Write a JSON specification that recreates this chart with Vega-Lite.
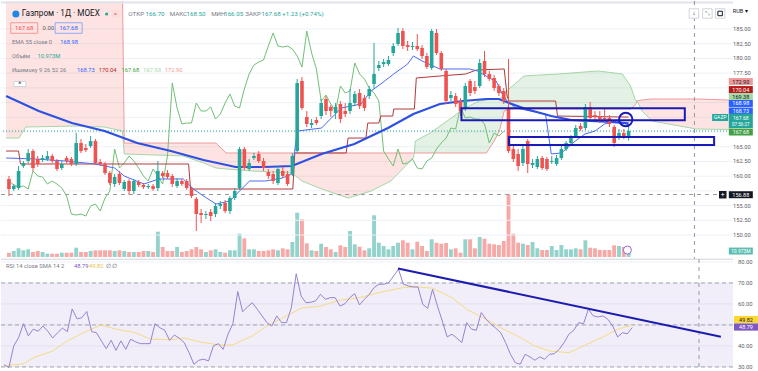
{
"$schema":"https://vega.github.io/schema/vega-lite/v6.json",
"padding":0,
"background":"white",
"bounds":"flush",
"spacing":0,
"config":{"view":{"stroke":null},"font":"Roboto","axis":{"disable":true}},
"datasets":{
"pgrid":[{"t":150},{"t":152.5},{"t":155},{"t":157.5},{"t":160},{"t":162.5},{"t":165},{"t":167.5},{"t":170},{"t":172.5},{"t":175},{"t":177.5},{"t":180},{"t":182.5},{"t":185}],
"plab":[{"t":150},{"t":152.5},{"t":155},{"t":160},{"t":162.5},{"t":165},{"t":177.5},{"t":180},{"t":182.5},{"t":185}],
"rgrid":[{"t":30},{"t":40},{"t":50},{"t":60},{"t":70},{"t":80}],
"rlab":[{"t":30},{"t":40},{"t":60},{"t":70},{"t":80}],
"k":[
{"i":0,"o":159.52,"h":160.03,"l":156.63,"c":157.82,"v":4.3,"r":31,"ch":159.18},
{"i":1,"o":157.82,"h":158.67,"l":157.48,"c":158.33,"v":6,"r":29.7,"ch":158.5},
{"i":2,"o":157.99,"h":161.73,"l":157.65,"c":160.88,"v":8.7,"r":40,"ch":158.16},
{"i":3,"o":161.73,"h":162.58,"l":161.39,"c":162.24,"v":6.7,"r":44,"ch":158.33},
{"i":4,"o":162.58,"h":164.61,"l":162.24,"c":163.94,"v":7.7,"r":50.6,"ch":157.82},
{"i":5,"o":164.27,"h":164.61,"l":160.88,"c":161.39,"v":5,"r":44.8,"ch":160.88},
{"i":6,"o":162.92,"h":163.43,"l":161.56,"c":162.07,"v":6,"r":48,"ch":160.03},
{"i":7,"o":162.75,"h":163.6,"l":162.41,"c":163.09,"v":5,"r":47,"ch":159.86},
{"i":8,"o":162.92,"h":164.27,"l":162.58,"c":163.43,"v":3.3,"r":49.5,"ch":158.67},
{"i":9,"o":163.43,"h":163.77,"l":162.24,"c":162.58,"v":3.3,"r":47,"ch":159.18},
{"i":10,"o":162.58,"h":162.92,"l":160.88,"c":161.22,"v":3.3,"r":43.8,"ch":158.67},
{"i":11,"o":161.39,"h":162.58,"l":161.05,"c":162.07,"v":4.3,"r":46.3,"ch":157.99},
{"i":12,"o":163.09,"h":163.43,"l":162.24,"c":162.58,"v":4.3,"r":48.5,"ch":156.63},
{"i":13,"o":162.92,"h":163.26,"l":161.73,"c":162.07,"v":4.3,"r":46.8,"ch":153.57},
{"i":14,"o":162.07,"h":167.33,"l":161.73,"c":165.63,"v":9.3,"r":57.6,"ch":153.4},
{"i":15,"o":165.63,"h":166.31,"l":163.94,"c":164.27,"v":5,"r":52.9,"ch":153.57},
{"i":16,"o":164.78,"h":165.46,"l":164.11,"c":164.44,"v":5,"r":53.5,"ch":153.23},
{"i":17,"o":165.12,"h":166.82,"l":164.78,"c":165.97,"v":6,"r":56.4,"ch":154.93},
{"i":18,"o":165.97,"h":166.31,"l":161.9,"c":162.24,"v":6.7,"r":46.8,"ch":155.27},
{"i":19,"o":162.41,"h":162.92,"l":161.73,"c":162.07,"v":6.7,"r":46.3,"ch":154.08},
{"i":20,"o":162.07,"h":162.41,"l":160.2,"c":160.54,"v":6.7,"r":42.4,"ch":156.29},
{"i":21,"o":160.54,"h":160.88,"l":158.5,"c":158.84,"v":6.7,"r":38.7,"ch":157.48},
{"i":22,"o":158.67,"h":160.37,"l":158.16,"c":159.86,"v":6,"r":42.7,"ch":164.61},
{"i":23,"o":160.37,"h":160.88,"l":158.5,"c":158.84,"v":6.7,"r":37.9,"ch":161.39},
{"i":24,"o":157.82,"h":159.35,"l":157.48,"c":159.01,"v":6,"r":42.4,"ch":162.24},
{"i":25,"o":159.18,"h":159.52,"l":156.8,"c":157.48,"v":5,"r":38.4,"ch":163.43},
{"i":26,"o":157.48,"h":159.52,"l":156.97,"c":159.18,"v":5,"r":43.2,"ch":162.58},
{"i":27,"o":159.01,"h":159.35,"l":158.16,"c":158.5,"v":5,"r":42,"ch":161.39},
{"i":28,"o":158.5,"h":158.84,"l":157.82,"c":158.16,"v":6,"r":41.1,"ch":160.03},
{"i":29,"o":158.16,"h":158.67,"l":157.82,"c":158.33,"v":6,"r":41.1,"ch":159.18},
{"i":30,"o":158.33,"h":158.67,"l":157.48,"c":157.82,"v":5,"r":41.1,"ch":161.22},
{"i":31,"o":157.99,"h":162.58,"l":157.48,"c":160.88,"v":25.3,"r":50.6,"ch":160.03},
{"i":32,"o":160.54,"h":160.88,"l":159.69,"c":160.03,"v":10,"r":48.7,"ch":158.67},
{"i":33,"o":160.54,"h":161.05,"l":159.52,"c":159.86,"v":6,"r":47.5,"ch":163.43},
{"i":34,"o":160.03,"h":160.37,"l":158.16,"c":158.67,"v":6,"r":42.7,"ch":175.83},
{"i":35,"o":158.33,"h":159.69,"l":157.99,"c":159.18,"v":10,"r":45.2,"ch":171.58},
{"i":36,"o":159.18,"h":159.52,"l":158.33,"c":158.67,"v":5,"r":43.7,"ch":168.86},
{"i":37,"o":159.18,"h":159.52,"l":157.65,"c":157.99,"v":6,"r":41.6,"ch":169.03},
{"i":38,"o":157.82,"h":158.16,"l":156.29,"c":156.63,"v":7.7,"r":36.8,"ch":169.03},
{"i":39,"o":156.12,"h":156.46,"l":150.68,"c":153.57,"v":10,"r":31.3,"ch":172.43},
{"i":40,"o":153.74,"h":154.42,"l":152.04,"c":153.4,"v":7.7,"r":33.2,"ch":171.07},
{"i":41,"o":153.4,"h":154.08,"l":152.72,"c":153.57,"v":5,"r":33.7,"ch":171.07},
{"i":42,"o":153.91,"h":154.42,"l":152.38,"c":153.23,"v":6.7,"r":32.9,"ch":171.75},
{"i":43,"o":153.57,"h":155.44,"l":153.06,"c":154.93,"v":7.7,"r":40,"ch":169.71},
{"i":44,"o":154.93,"h":155.78,"l":154.42,"c":155.27,"v":5,"r":41.1,"ch":170.56},
{"i":45,"o":155.44,"h":155.95,"l":153.74,"c":154.08,"v":4.3,"r":38.4,"ch":172.43},
{"i":46,"o":154.08,"h":156.63,"l":153.57,"c":156.29,"v":6.7,"r":45.6,"ch":173.96},
{"i":47,"o":156.29,"h":157.99,"l":155.95,"c":157.48,"v":6.7,"r":50.6,"ch":171.92},
{"i":48,"o":157.99,"h":164.95,"l":157.65,"c":164.61,"v":23.3,"r":65.9,"ch":171.58},
{"i":49,"o":164.61,"h":164.95,"l":161.05,"c":161.39,"v":18.7,"r":56.3,"ch":174.81},
{"i":50,"o":161.22,"h":162.92,"l":160.88,"c":162.24,"v":7.7,"r":58.6,"ch":177.36},
{"i":51,"o":163.09,"h":163.94,"l":162.75,"c":163.43,"v":7.7,"r":60.6,"ch":178.89},
{"i":52,"o":163.77,"h":164.27,"l":162.24,"c":162.58,"v":6,"r":57.5,"ch":179.4},
{"i":53,"o":162.58,"h":163.09,"l":160.88,"c":161.39,"v":6,"r":54.3,"ch":179.74},
{"i":54,"o":160.71,"h":161.22,"l":159.52,"c":160.03,"v":6.7,"r":51.1,"ch":182.11},
{"i":55,"o":160.37,"h":160.88,"l":158.67,"c":159.18,"v":7.7,"r":49.5,"ch":184.32},
{"i":56,"o":158.84,"h":161.73,"l":158.5,"c":161.22,"v":6.7,"r":54.3,"ch":182.11},
{"i":57,"o":160.88,"h":161.56,"l":159.69,"c":160.03,"v":8.7,"r":51.1,"ch":181.94},
{"i":58,"o":160.37,"h":160.88,"l":158.33,"c":158.67,"v":7.7,"r":51.1,"ch":182.11},
{"i":59,"o":160.37,"h":163.94,"l":160.03,"c":163.43,"v":15,"r":58.2,"ch":181.6},
{"i":60,"o":164.27,"h":176.51,"l":163.94,"c":175.83,"v":44.3,"r":74.4,"ch":180.42},
{"i":61,"o":176.17,"h":176.85,"l":171.24,"c":171.58,"v":37.7,"r":63.8,"ch":178.55},
{"i":62,"o":170.05,"h":171.07,"l":168.35,"c":168.86,"v":13.7,"r":60.6,"ch":184.66},
{"i":63,"o":168.69,"h":169.71,"l":168.18,"c":169.03,"v":6.7,"r":60.8,"ch":180.93},
{"i":64,"o":169.54,"h":170.05,"l":168.69,"c":169.03,"v":6,"r":61.5,"ch":178.21},
{"i":65,"o":170.22,"h":173.11,"l":169.71,"c":172.43,"v":13.3,"r":64.6,"ch":172.77},
{"i":66,"o":173.11,"h":173.62,"l":170.39,"c":171.07,"v":10,"r":62.2,"ch":173.79},
{"i":67,"o":171.75,"h":172.09,"l":170.05,"c":171.07,"v":7.7,"r":63,"ch":172.26},
{"i":68,"o":170.73,"h":172.43,"l":169.71,"c":171.75,"v":5,"r":63,"ch":171.07},
{"i":69,"o":172.26,"h":172.77,"l":169.03,"c":169.71,"v":11.7,"r":59,"ch":175.32},
{"i":70,"o":171.07,"h":172.43,"l":170.05,"c":170.56,"v":10,"r":60.1,"ch":174.13},
{"i":71,"o":171.07,"h":174.81,"l":170.56,"c":172.43,"v":26,"r":63,"ch":174.47},
{"i":72,"o":172.43,"h":174.47,"l":171.92,"c":173.96,"v":12.7,"r":64.9,"ch":179.23},
{"i":73,"o":174.13,"h":174.81,"l":171.41,"c":171.92,"v":10.3,"r":59.5,"ch":177.36},
{"i":74,"o":173.28,"h":173.79,"l":171.07,"c":171.58,"v":6.7,"r":62.2,"ch":176.51},
{"i":75,"o":173.62,"h":175.32,"l":173.11,"c":174.81,"v":8.7,"r":64.6,"ch":174.98},
{"i":76,"o":175.66,"h":182.62,"l":174.81,"c":177.36,"v":41.7,"r":67.8,"ch":174.13},
{"i":77,"o":178.38,"h":179.57,"l":177.87,"c":178.89,"v":14.3,"r":69.4,"ch":172.77},
{"i":78,"o":179.06,"h":179.91,"l":178.55,"c":179.4,"v":11,"r":69.4,"ch":164.27},
{"i":79,"o":179.06,"h":180.42,"l":178.72,"c":179.74,"v":7.7,"r":70.2,"ch":162.92},
{"i":80,"o":180.93,"h":182.62,"l":180.42,"c":182.11,"v":11,"r":73.3,"ch":161.73},
{"i":81,"o":182.45,"h":185.17,"l":182.11,"c":184.32,"v":14.3,"r":76.5,"ch":164.61},
{"i":82,"o":184.66,"h":185.17,"l":181.6,"c":182.11,"v":16.7,"r":69.4,"ch":162.07},
{"i":83,"o":182.28,"h":182.96,"l":181.26,"c":181.94,"v":14.3,"r":68.6,"ch":162.24},
{"i":84,"o":181.94,"h":182.79,"l":181.43,"c":182.11,"v":7.7,"r":68.1,"ch":162.92},
{"i":85,"o":182.11,"h":184.15,"l":181.26,"c":181.6,"v":15.3,"r":68.1,"ch":161.39},
{"i":86,"o":181.77,"h":182.28,"l":179.91,"c":180.42,"v":11,"r":59.8,"ch":161.22},
{"i":87,"o":180.42,"h":180.93,"l":178.21,"c":178.55,"v":6,"r":57.9,"ch":162.58},
{"i":88,"o":178.38,"h":185,"l":178.04,"c":184.66,"v":17.7,"r":67,"ch":163.09},
{"i":89,"o":184.32,"h":185,"l":180.59,"c":180.93,"v":14.3,"r":59,"ch":164.61},
{"i":90,"o":180.93,"h":181.26,"l":177.87,"c":178.21,"v":13.3,"r":51.9,"ch":165.63},
{"i":91,"o":177.87,"h":178.21,"l":172.26,"c":172.77,"v":14,"r":44.3,"ch":166.48},
{"i":92,"o":173.28,"h":174.47,"l":172.77,"c":173.79,"v":7.7,"r":45.6,"ch":168.18},
{"i":93,"o":173.62,"h":174.13,"l":171.75,"c":172.26,"v":8.7,"r":43.7,"ch":168.01},
{"i":94,"o":172.77,"h":173.28,"l":170.22,"c":171.07,"v":4.3,"r":41.6,"ch":171.75},
{"i":95,"o":171.41,"h":175.83,"l":171.07,"c":175.32,"v":17.7,"r":51.1,"ch":169.88},
{"i":96,"o":176.17,"h":176.51,"l":173.62,"c":174.13,"v":17.7,"r":48,"ch":170.05},
{"i":97,"o":175.15,"h":176.17,"l":173.96,"c":174.47,"v":8.7,"r":47.5,"ch":169.71},
{"i":98,"o":175.32,"h":179.91,"l":174.98,"c":179.23,"v":20,"r":55.9,"ch":169.71},
{"i":99,"o":179.57,"h":181.26,"l":176.85,"c":177.36,"v":18.3,"r":52.7,"ch":168.86},
{"i":100,"o":177.36,"h":177.87,"l":176.17,"c":176.51,"v":13.3,"r":50.3,"ch":165.63},
{"i":101,"o":176.68,"h":177.19,"l":174.47,"c":174.98,"v":12.7,"r":48.4,"ch":167.33},
{"i":102,"o":175.32,"h":175.66,"l":173.62,"c":174.13,"v":12,"r":46.3,"ch":166.82},
{"i":103,"o":174.47,"h":174.98,"l":172.26,"c":172.77,"v":16,"r":41.6,"ch":167.68},
{"i":104,"o":171.58,"h":179.91,"l":163.94,"c":164.27,"v":62.7,"r":36},
{"i":105,"o":164.61,"h":165.46,"l":162.41,"c":162.92,"v":23.3,"r":32},
{"i":106,"o":163.77,"h":164.61,"l":160.88,"c":161.73,"v":14.3,"r":31.3},
{"i":107,"o":162.24,"h":165.12,"l":161.73,"c":164.61,"v":13.3,"r":36},
{"i":108,"o":165.97,"h":166.31,"l":160.54,"c":162.07,"v":12,"r":34.8},
{"i":109,"o":161.9,"h":162.92,"l":161.39,"c":162.24,"v":15,"r":33.2},
{"i":110,"o":161.56,"h":163.43,"l":161.22,"c":162.92,"v":8.7,"r":34.8},
{"i":111,"o":163.09,"h":163.43,"l":161.05,"c":161.39,"v":7,"r":33.7},
{"i":112,"o":162.92,"h":163.26,"l":160.88,"c":161.22,"v":7,"r":36},
{"i":113,"o":162.41,"h":163.43,"l":162.07,"c":162.58,"v":11,"r":36.3},
{"i":114,"o":162.07,"h":163.6,"l":161.73,"c":163.09,"v":7,"r":38.4},
{"i":115,"o":163.09,"h":165.12,"l":162.75,"c":164.61,"v":12,"r":41.6},
{"i":116,"o":164.61,"h":165.97,"l":164.27,"c":165.63,"v":7.7,"r":45.6},
{"i":117,"o":165.63,"h":166.99,"l":165.29,"c":166.48,"v":7.7,"r":47.5},
{"i":118,"o":166.82,"h":168.69,"l":166.48,"c":168.18,"v":8.7,"r":51.1},
{"i":119,"o":168.52,"h":169.03,"l":167.67,"c":168.01,"v":7.7,"r":50.6},
{"i":120,"o":168.18,"h":172.26,"l":167.84,"c":171.75,"v":16.7,"r":57.5},
{"i":121,"o":171.75,"h":172.6,"l":169.37,"c":169.88,"v":9.3,"r":54.3},
{"i":122,"o":170.39,"h":171.07,"l":169.37,"c":170.05,"v":8.7,"r":53.8},
{"i":123,"o":170.22,"h":171.07,"l":169.03,"c":169.71,"v":7,"r":54.3},
{"i":124,"o":169.88,"h":171.58,"l":169.2,"c":169.71,"v":7,"r":52.7},
{"i":125,"o":169.88,"h":170.39,"l":168.35,"c":168.86,"v":7,"r":49.5},
{"i":126,"o":168.35,"h":168.69,"l":164.95,"c":165.63,"v":11.7,"r":44.3},
{"i":127,"o":166.82,"h":168.01,"l":166.14,"c":167.33,"v":11,"r":46.3},
{"i":128,"o":167.33,"h":168.01,"l":166.31,"c":166.82,"v":10,"r":45.8},
{"i":129,"o":166.7,"h":168.5,"l":166.05,"c":167.68,"v":10.97,"r":48.79}
],
"cloud":[
{"i":-0.62,"a":166.48,"b":193.16,"s":"r1"},{"i":2.1,"a":166.48,"b":193.16,"s":"r1"},{"i":3.5,"a":168.35,"b":193.16,"s":"r1"},{"i":13.8,"a":168.52,"b":193.16,"s":"r1"},{"i":19.9,"a":168.35,"b":193.16,"s":"r1"},{"i":23.6,"a":167.67,"b":193.16,"s":"r1"},{"i":24.0,"a":163.77,"b":165.63,"s":"r1"},{"i":36.3,"a":163.43,"b":165.63,"s":"r1"},{"i":40.5,"a":162.24,"b":165.63,"s":"r1"},{"i":43.1,"a":161.39,"b":165.63,"s":"r1"},{"i":45.2,"a":161.22,"b":163.94,"s":"r1"},{"i":50.7,"a":160.88,"b":163.94,"s":"r1"},{"i":58.9,"a":160.54,"b":163.94,"s":"r1"},{"i":61.0,"a":159.18,"b":163.94,"s":"r1"},{"i":65.1,"a":157.82,"b":163.94,"s":"r1"},{"i":70.6,"a":156.29,"b":163.94,"s":"r1"},{"i":75.4,"a":157.48,"b":163.94,"s":"r1"},{"i":79.5,"a":159.18,"b":163.94,"s":"r1"},{"i":84.2,"a":163.09,"b":163.94,"s":"r1"},{"i":84.4,"a":163.94,"b":163.94,"s":"r1"},
{"i":84.4,"a":163.94,"b":163.94,"s":"g"},{"i":84.6,"a":165.97,"b":163.94,"s":"g"},{"i":87.7,"a":167.33,"b":163.94,"s":"g"},{"i":91.8,"a":169.71,"b":163.94,"s":"g"},{"i":94.9,"a":171.58,"b":163.94,"s":"g"},{"i":97.9,"a":172.77,"b":163.94,"s":"g"},{"i":99.4,"a":172.94,"b":163.94,"s":"g"},{"i":101.0,"a":173.11,"b":165.97,"s":"g"},{"i":102.1,"a":173.11,"b":167.67,"s":"g"},{"i":103.1,"a":173.79,"b":171.07,"s":"g"},{"i":104.1,"a":174.81,"b":171.41,"s":"g"},{"i":107.2,"a":177.02,"b":171.41,"s":"g"},{"i":114.4,"a":177.36,"b":171.41,"s":"g"},{"i":122.6,"a":177.87,"b":171.41,"s":"g"},{"i":127.7,"a":177.36,"b":171.41,"s":"g"},{"i":129.4,"a":175.32,"b":171.41,"s":"g"},{"i":130.4,"a":172.94,"b":172.09,"s":"g"},{"i":130.8,"a":172.77,"b":172.77,"s":"g"},
{"i":130.8,"a":172.77,"b":172.77,"s":"r2"},{"i":131.8,"a":171.07,"b":172.94,"s":"r2"},{"i":133.9,"a":169.37,"b":173.11,"s":"r2"},{"i":143.1,"a":168.01,"b":173.11,"s":"r2"},{"i":151.3,"a":167.93,"b":172.9,"s":"r2"}
],
"ema":[{"i":-0.6,"v":173.62},{"i":6.2,"v":171.07},{"i":13.1,"v":169.03},{"i":19.9,"v":167.67},{"i":26.7,"v":165.63},{"i":33.7,"v":164.27},{"i":40.5,"v":162.75},{"i":47.2,"v":161.56},{"i":53.2,"v":161.56},{"i":58.9,"v":161.73},{"i":65.1,"v":163.77},{"i":71.9,"v":165.46},{"i":78.9,"v":168.18},{"i":84.2,"v":170.56},{"i":89.7,"v":172.26},{"i":94.5,"v":172.77},{"i":99.4,"v":173.11},{"i":102,"v":173.11},{"i":104.1,"v":172.43},{"i":107.6,"v":171.41},{"i":112.9,"v":170.22},{"i":117,"v":169.54},{"i":121.1,"v":169.37},{"i":125.3,"v":169.2},{"i":129,"v":168.98}],
"tenkan":[{"i":-0.6,"v":163.09},{"i":5.5,"v":162.92},{"i":11.7,"v":162.58},{"i":17.9,"v":162.07},{"i":22,"v":161.39},{"i":24,"v":160.03},{"i":28.1,"v":158.67},{"i":31.2,"v":159.52},{"i":36.3,"v":159.52},{"i":38.4,"v":157.82},{"i":40.5,"v":156.63},{"i":43.1,"v":155.27},{"i":46,"v":155.78},{"i":48,"v":157.48},{"i":50.1,"v":159.18},{"i":53.4,"v":159.18},{"i":56.9,"v":159.69},{"i":58.9,"v":160.37},{"i":60,"v":167.67},{"i":65.1,"v":168.18},{"i":66.5,"v":169.37},{"i":69.2,"v":171.58},{"i":73.3,"v":172.26},{"i":75.4,"v":174.47},{"i":77.4,"v":175.66},{"i":80.1,"v":177.36},{"i":83,"v":179.06},{"i":84.2,"v":180.42},{"i":86,"v":179.57},{"i":89.7,"v":178.21},{"i":95.9,"v":178.21},{"i":97.5,"v":177.87},{"i":100.4,"v":176.51},{"i":101.4,"v":176.17},{"i":102.7,"v":173.96},{"i":103.7,"v":172.77},{"i":105.5,"v":171.58},{"i":111.7,"v":170.56},{"i":112.3,"v":167.16},{"i":112.9,"v":163.77},{"i":115,"v":163.94},{"i":117.9,"v":165.97},{"i":119.9,"v":167.16},{"i":122,"v":167.67},{"i":124,"v":168.86},{"i":126.7,"v":169.37},{"i":129,"v":168.73}],
"kijun":[{"i":-0.6,"v":164.27},{"i":2.0,"v":164.27},{"i":2.4,"v":162.07},{"i":37.4,"v":162.07},{"i":37.8,"v":157.82},{"i":59.1,"v":157.82},{"i":59.5,"v":163.94},{"i":70.2,"v":163.94},{"i":70.6,"v":166.48},{"i":74.3,"v":166.48},{"i":74.7,"v":169.03},{"i":77,"v":169.03},{"i":77.4,"v":170.22},{"i":79.9,"v":170.22},{"i":80.1,"v":171.41},{"i":84.4,"v":171.41},{"i":84.8,"v":176.68},{"i":89.7,"v":177.02},{"i":95.1,"v":177.36},{"i":97.3,"v":178.04},{"i":103.1,"v":178.21},{"i":103.7,"v":173.62},{"i":104.1,"v":172.77},{"i":113.8,"v":172.77},{"i":114.2,"v":170.22},{"i":129,"v":170.04}],
"sma":[{"i":0,"v":30.5},{"i":4,"v":31.5},{"i":6,"v":34.4},{"i":10,"v":37.6},{"i":13,"v":42.4},{"i":17,"v":47.1},{"i":20,"v":50},{"i":23,"v":48},{"i":27,"v":46.3},{"i":30,"v":43.3},{"i":34,"v":42.9},{"i":37,"v":43.8},{"i":40,"v":42},{"i":44,"v":40.5},{"i":47,"v":40.5},{"i":51,"v":44.8},{"i":54,"v":49.5},{"i":58,"v":54.3},{"i":61,"v":58},{"i":65,"v":59},{"i":69,"v":61.8},{"i":73,"v":63},{"i":77,"v":65.4},{"i":82,"v":67.8},{"i":85,"v":68.1},{"i":88,"v":67.5},{"i":92,"v":63},{"i":95,"v":57.5},{"i":99,"v":52.7},{"i":102,"v":48.7},{"i":106,"v":44},{"i":109,"v":40},{"i":112,"v":37.6},{"i":116,"v":36.8},{"i":119,"v":40},{"i":123,"v":44.3},{"i":126,"v":48},{"i":129,"v":49.82}]
},
"vconcat":[
{
"width":732,"height":258,
"data":{"values":[{}]},
"resolve":{"scale":{"y":"independent"}},
"layer":[
{"data":{"name":"k"},"mark":{"type":"bar","orient":"vertical","size":3.9},
 "encoding":{"x":{"field":"i","type":"quantitative","scale":{"domain":[-0.616,149.69],"nice":false,"zero":false},"axis":null},
 "y":{"field":"v","type":"quantitative","scale":{"domain":[-2,256],"nice":false,"zero":false},"axis":null,"stack":null},
 "color":{"condition":{"test":"datum.c>=datum.o","value":"#93d3cc"},"value":"#f6aaa8"}}},
{"layer":[
{"data":{"name":"pgrid"},"mark":{"type":"rule","color":"#eef1f7","strokeWidth":1},
 "encoding":{"y":{"field":"t","type":"quantitative","scale":{"domain":[145.93,189.76],"nice":false,"zero":false},"axis":null}}},
{"data":{"name":"cloud"},"mark":{"type":"area","clip":true,"opacity":0.14,"orient":"vertical"},
 "encoding":{"x":{"field":"i","type":"quantitative","scale":{"domain":[-0.616,149.69],"nice":false,"zero":false},"axis":null},
 "y":{"field":"a","type":"quantitative","stack":null,"scale":{"domain":[145.93,189.76],"nice":false,"zero":false},"axis":null},
 "y2":{"field":"b"},
 "color":{"field":"s","type":"nominal","scale":{"domain":["r1","g","r2"],"range":["#f44336","#43a047","#f44336"]},"legend":null},
 "detail":{"field":"s"}}},
{"data":{"name":"cloud"},"mark":{"type":"line","clip":true,"color":"#a5d6a7","strokeWidth":1},
 "encoding":{"x":{"field":"i","type":"quantitative","scale":{"domain":[-0.616,149.69],"nice":false,"zero":false},"axis":null},
 "y":{"field":"a","type":"quantitative","scale":{"domain":[145.93,189.76],"nice":false,"zero":false},"axis":null}}},
{"data":{"name":"cloud"},"mark":{"type":"line","clip":true,"color":"#ef9a9a","strokeWidth":1},
 "encoding":{"x":{"field":"i","type":"quantitative","scale":{"domain":[-0.616,149.69],"nice":false,"zero":false},"axis":null},
 "y":{"field":"b","type":"quantitative","scale":{"domain":[145.93,189.76],"nice":false,"zero":false},"axis":null}}},
{"mark":{"type":"rule","color":"#e0e3eb","strokeWidth":2},
 "encoding":{"y":{"datum":189.5,"type":"quantitative","scale":{"domain":[145.93,189.76],"nice":false,"zero":false},"axis":null}}},
{"mark":{"type":"rule","color":"#26a69a","strokeDash":[1,2],"strokeWidth":1},
 "encoding":{"y":{"datum":167.68,"type":"quantitative","scale":{"domain":[145.93,189.76],"nice":false,"zero":false},"axis":null}}},
{"mark":{"type":"rule","color":"#9598a1","strokeDash":[4,4],"strokeWidth":1},
 "encoding":{"y":{"datum":156.88,"type":"quantitative","scale":{"domain":[145.93,189.76],"nice":false,"zero":false},"axis":null}}},
{"mark":{"type":"rule","color":"#9598a1","strokeDash":[4,4],"strokeWidth":1},
 "encoding":{"x":{"datum":142.7,"type":"quantitative","scale":{"domain":[-0.616,149.69],"nice":false,"zero":false},"axis":null}}},
{"data":{"name":"k"},"transform":[{"filter":"isValid(datum.ch)"}],"mark":{"type":"line","clip":true,"color":"#72bf75","strokeWidth":1},
 "encoding":{"x":{"field":"i","type":"quantitative","scale":{"domain":[-0.616,149.69],"nice":false,"zero":false},"axis":null},
 "y":{"field":"ch","type":"quantitative","scale":{"domain":[145.93,189.76],"nice":false,"zero":false},"axis":null}}},
{"data":{"name":"kijun"},"mark":{"type":"line","clip":true,"color":"#b23a3a","strokeWidth":1},
 "encoding":{"x":{"field":"i","type":"quantitative","scale":{"domain":[-0.616,149.69],"nice":false,"zero":false},"axis":null},
 "y":{"field":"v","type":"quantitative","scale":{"domain":[145.93,189.76],"nice":false,"zero":false},"axis":null}}},
{"data":{"name":"tenkan"},"mark":{"type":"line","clip":true,"color":"#4a6cf7","strokeWidth":1},
 "encoding":{"x":{"field":"i","type":"quantitative","scale":{"domain":[-0.616,149.69],"nice":false,"zero":false},"axis":null},
 "y":{"field":"v","type":"quantitative","scale":{"domain":[145.93,189.76],"nice":false,"zero":false},"axis":null}}},
{"data":{"name":"ema"},"mark":{"type":"line","clip":true,"color":"#2d50e0","strokeWidth":2.2},
 "encoding":{"x":{"field":"i","type":"quantitative","scale":{"domain":[-0.616,149.69],"nice":false,"zero":false},"axis":null},
 "y":{"field":"v","type":"quantitative","scale":{"domain":[145.93,189.76],"nice":false,"zero":false},"axis":null}}},
{"data":{"name":"k"},"mark":{"type":"rule","strokeWidth":1},
 "encoding":{"x":{"field":"i","type":"quantitative","scale":{"domain":[-0.616,149.69],"nice":false,"zero":false},"axis":null},
 "y":{"field":"l","type":"quantitative","scale":{"domain":[145.93,189.76],"nice":false,"zero":false},"axis":null},
 "y2":{"field":"h"},
 "color":{"condition":{"test":"datum.c>=datum.o","value":"#26a69a"},"value":"#ef5350"}}},
{"data":{"name":"k"},"mark":{"type":"bar","orient":"vertical","size":3.6},
 "encoding":{"x":{"field":"i","type":"quantitative","scale":{"domain":[-0.616,149.69],"nice":false,"zero":false},"axis":null},
 "y":{"field":"o","type":"quantitative","scale":{"domain":[145.93,189.76],"nice":false,"zero":false},"axis":null},
 "y2":{"field":"c"},
 "color":{"condition":{"test":"datum.c>=datum.o","value":"#26a69a"},"value":"#ef5350"}}},
{"mark":{"type":"rect","fillOpacity":0,"stroke":"#1a1ab4","strokeWidth":2},
 "encoding":{"x":{"datum":94.2,"type":"quantitative","scale":{"domain":[-0.616,149.69],"nice":false,"zero":false},"axis":null},"x2":{"datum":140.7},
 "y":{"datum":171.53,"type":"quantitative","scale":{"domain":[145.93,189.76],"nice":false,"zero":false},"axis":null},"y2":{"datum":169.49}}},
{"mark":{"type":"rect","fillOpacity":0,"stroke":"#1a1ab4","strokeWidth":2},
 "encoding":{"x":{"datum":104.1,"type":"quantitative","scale":{"domain":[-0.616,149.69],"nice":false,"zero":false},"axis":null},"x2":{"datum":146.8},
 "y":{"datum":166.65,"type":"quantitative","scale":{"domain":[145.93,189.76],"nice":false,"zero":false},"axis":null},"y2":{"datum":165.29}}},
{"mark":{"type":"point","shape":"circle","size":180,"filled":false,"color":"#1a1ab4","strokeWidth":2,"opacity":1},
 "encoding":{"x":{"datum":128.4,"type":"quantitative","scale":{"domain":[-0.616,149.69],"nice":false,"zero":false},"axis":null},
 "y":{"datum":169.63,"type":"quantitative","scale":{"domain":[145.93,189.76],"nice":false,"zero":false},"axis":null}}},
{"mark":{"type":"point","shape":"circle","size":64,"filled":true,"fill":"white","stroke":"#9c6ad6","strokeWidth":1,"opacity":1},
 "encoding":{"x":{"datum":128.75,"type":"quantitative","scale":{"domain":[-0.616,149.69],"nice":false,"zero":false},"axis":null},
 "y":{"datum":147.45,"type":"quantitative","scale":{"domain":[145.93,189.76],"nice":false,"zero":false},"axis":null}}},
{"data":{"name":"plab"},"mark":{"type":"text","align":"left","baseline":"middle","fontSize":5.8,"color":"#5d606b"},
 "encoding":{"x":{"datum":150.72,"type":"quantitative","scale":{"domain":[-0.616,149.69],"nice":false,"zero":false},"axis":null},
 "y":{"field":"t","type":"quantitative","scale":{"domain":[145.93,189.76],"nice":false,"zero":false},"axis":null},
 "text":{"field":"t","type":"quantitative","format":".2f"}}},
{"mark":{"type":"point","shape":"M-1,-0.29H1V0.29H-1Z","size":576,"filled":true,"color":"#ef9a9a","opacity":1},
 "encoding":{"x":{"datum":152.36,"type":"quantitative","scale":{"domain":[-0.616,149.69],"nice":false,"zero":false},"axis":null},"y":{"datum":176.08,"type":"quantitative","scale":{"domain":[145.93,189.76],"nice":false,"zero":false},"axis":null}}},
{"mark":{"type":"text","text":"172.90","fontSize":5.5,"color":"#131722","align":"center","baseline":"middle"},
 "encoding":{"x":{"datum":152.36,"type":"quantitative","scale":{"domain":[-0.616,149.69],"nice":false,"zero":false},"axis":null},"y":{"datum":176.08,"type":"quantitative","scale":{"domain":[145.93,189.76],"nice":false,"zero":false},"axis":null}}},
{"mark":{"type":"point","shape":"M-1,-0.29H1V0.29H-1Z","size":576,"filled":true,"color":"#b71c1c","opacity":1},
 "encoding":{"x":{"datum":152.36,"type":"quantitative","scale":{"domain":[-0.616,149.69],"nice":false,"zero":false},"axis":null},"y":{"datum":174.72,"type":"quantitative","scale":{"domain":[145.93,189.76],"nice":false,"zero":false},"axis":null}}},
{"mark":{"type":"text","text":"170.04","fontSize":5.5,"color":"white","align":"center","baseline":"middle"},
 "encoding":{"x":{"datum":152.36,"type":"quantitative","scale":{"domain":[-0.616,149.69],"nice":false,"zero":false},"axis":null},"y":{"datum":174.72,"type":"quantitative","scale":{"domain":[145.93,189.76],"nice":false,"zero":false},"axis":null}}},
{"mark":{"type":"point","shape":"M-1,-0.29H1V0.29H-1Z","size":576,"filled":true,"color":"#a5d6a7","opacity":1},
 "encoding":{"x":{"datum":152.36,"type":"quantitative","scale":{"domain":[-0.616,149.69],"nice":false,"zero":false},"axis":null},"y":{"datum":173.53,"type":"quantitative","scale":{"domain":[145.93,189.76],"nice":false,"zero":false},"axis":null}}},
{"mark":{"type":"text","text":"169.38","fontSize":5.5,"color":"#131722","align":"center","baseline":"middle"},
 "encoding":{"x":{"datum":152.36,"type":"quantitative","scale":{"domain":[-0.616,149.69],"nice":false,"zero":false},"axis":null},"y":{"datum":173.53,"type":"quantitative","scale":{"domain":[145.93,189.76],"nice":false,"zero":false},"axis":null}}},
{"mark":{"type":"point","shape":"M-1,-0.29H1V0.29H-1Z","size":576,"filled":true,"color":"#2962ff","opacity":1},
 "encoding":{"x":{"datum":152.36,"type":"quantitative","scale":{"domain":[-0.616,149.69],"nice":false,"zero":false},"axis":null},"y":{"datum":172.35,"type":"quantitative","scale":{"domain":[145.93,189.76],"nice":false,"zero":false},"axis":null}}},
{"mark":{"type":"text","text":"168.98","fontSize":5.5,"color":"white","align":"center","baseline":"middle"},
 "encoding":{"x":{"datum":152.36,"type":"quantitative","scale":{"domain":[-0.616,149.69],"nice":false,"zero":false},"axis":null},"y":{"datum":172.35,"type":"quantitative","scale":{"domain":[145.93,189.76],"nice":false,"zero":false},"axis":null}}},
{"mark":{"type":"point","shape":"M-1,-0.29H1V0.29H-1Z","size":576,"filled":true,"color":"#2962ff","opacity":1},
 "encoding":{"x":{"datum":152.36,"type":"quantitative","scale":{"domain":[-0.616,149.69],"nice":false,"zero":false},"axis":null},"y":{"datum":171.07,"type":"quantitative","scale":{"domain":[145.93,189.76],"nice":false,"zero":false},"axis":null}}},
{"mark":{"type":"text","text":"168.73","fontSize":5.3,"color":"white","align":"center","baseline":"middle"},
 "encoding":{"x":{"datum":152.36,"type":"quantitative","scale":{"domain":[-0.616,149.69],"nice":false,"zero":false},"axis":null},"y":{"datum":171.12,"type":"quantitative","scale":{"domain":[145.93,189.76],"nice":false,"zero":false},"axis":null}}},
{"mark":{"type":"point","shape":"M-1,-0.6H1V0.6H-1Z","size":576,"filled":true,"color":"#26a69a","opacity":1},
 "encoding":{"x":{"datum":152.36,"type":"quantitative","scale":{"domain":[-0.616,149.69],"nice":false,"zero":false},"axis":null},"y":{"datum":169.41,"type":"quantitative","scale":{"domain":[145.93,189.76],"nice":false,"zero":false},"axis":null}}},
{"mark":{"type":"text","text":"167.68","fontSize":5.1,"color":"white","align":"center","baseline":"middle"},
 "encoding":{"x":{"datum":152.36,"type":"quantitative","scale":{"domain":[-0.616,149.69],"nice":false,"zero":false},"axis":null},"y":{"datum":169.95,"type":"quantitative","scale":{"domain":[145.93,189.76],"nice":false,"zero":false},"axis":null}}},
{"mark":{"type":"text","text":"07:56:27","fontSize":4.6,"color":"white","align":"center","baseline":"middle"},
 "encoding":{"x":{"datum":152.36,"type":"quantitative","scale":{"domain":[-0.616,149.69],"nice":false,"zero":false},"axis":null},"y":{"datum":168.76,"type":"quantitative","scale":{"domain":[145.93,189.76],"nice":false,"zero":false},"axis":null}}},
{"mark":{"type":"point","shape":"M-1,-0.44H1V0.44H-1Z","size":256,"filled":true,"color":"#26a69a","opacity":1},
 "encoding":{"x":{"datum":148.05,"type":"quantitative","scale":{"domain":[-0.616,149.69],"nice":false,"zero":false},"axis":null},"y":{"datum":169.97,"type":"quantitative","scale":{"domain":[145.93,189.76],"nice":false,"zero":false},"axis":null}}},
{"mark":{"type":"text","text":"GAZP","fontSize":5,"color":"white","align":"center","baseline":"middle"},
 "encoding":{"x":{"datum":148.05,"type":"quantitative","scale":{"domain":[-0.616,149.69],"nice":false,"zero":false},"axis":null},"y":{"datum":169.97,"type":"quantitative","scale":{"domain":[145.93,189.76],"nice":false,"zero":false},"axis":null}}},
{"mark":{"type":"point","shape":"M-1,-0.29H1V0.29H-1Z","size":576,"filled":true,"color":"#43a047","opacity":1},
 "encoding":{"x":{"datum":152.36,"type":"quantitative","scale":{"domain":[-0.616,149.69],"nice":false,"zero":false},"axis":null},"y":{"datum":167.5,"type":"quantitative","scale":{"domain":[145.93,189.76],"nice":false,"zero":false},"axis":null}}},
{"mark":{"type":"text","text":"167.68","fontSize":5.3,"color":"white","align":"center","baseline":"middle"},
 "encoding":{"x":{"datum":152.36,"type":"quantitative","scale":{"domain":[-0.616,149.69],"nice":false,"zero":false},"axis":null},"y":{"datum":167.48,"type":"quantitative","scale":{"domain":[145.93,189.76],"nice":false,"zero":false},"axis":null}}},
{"mark":{"type":"point","shape":"M-1,-0.29H1V0.29H-1Z","size":576,"filled":true,"color":"#131722","opacity":1},
 "encoding":{"x":{"datum":152.36,"type":"quantitative","scale":{"domain":[-0.616,149.69],"nice":false,"zero":false},"axis":null},"y":{"datum":156.85,"type":"quantitative","scale":{"domain":[145.93,189.76],"nice":false,"zero":false},"axis":null}}},
{"mark":{"type":"text","text":"156.88","fontSize":5.5,"color":"white","align":"center","baseline":"middle"},
 "encoding":{"x":{"datum":152.36,"type":"quantitative","scale":{"domain":[-0.616,149.69],"nice":false,"zero":false},"axis":null},"y":{"datum":156.85,"type":"quantitative","scale":{"domain":[145.93,189.76],"nice":false,"zero":false},"axis":null}}},
{"mark":{"type":"point","shape":"square","size":56,"filled":true,"color":"#131722","opacity":1},
 "encoding":{"x":{"datum":148.6,"type":"quantitative","scale":{"domain":[-0.616,149.69],"nice":false,"zero":false},"axis":null},"y":{"datum":156.85,"type":"quantitative","scale":{"domain":[145.93,189.76],"nice":false,"zero":false},"axis":null}}},
{"mark":{"type":"text","text":"+","fontSize":7,"color":"white","align":"center","baseline":"middle"},
 "encoding":{"x":{"datum":148.6,"type":"quantitative","scale":{"domain":[-0.616,149.69],"nice":false,"zero":false},"axis":null},"y":{"datum":156.85,"type":"quantitative","scale":{"domain":[145.93,189.76],"nice":false,"zero":false},"axis":null}}},
{"mark":{"type":"point","shape":"M-1,-0.29H1V0.29H-1Z","size":576,"filled":true,"color":"#5bbdb2","opacity":1},
 "encoding":{"x":{"datum":152.36,"type":"quantitative","scale":{"domain":[-0.616,149.69],"nice":false,"zero":false},"axis":null},"y":{"datum":147.28,"type":"quantitative","scale":{"domain":[145.93,189.76],"nice":false,"zero":false},"axis":null}}},
{"mark":{"type":"text","text":"10.973M","fontSize":5,"color":"white","align":"center","baseline":"middle"},
 "encoding":{"x":{"datum":152.36,"type":"quantitative","scale":{"domain":[-0.616,149.69],"nice":false,"zero":false},"axis":null},"y":{"datum":147.28,"type":"quantitative","scale":{"domain":[145.93,189.76],"nice":false,"zero":false},"axis":null}}},
{"mark":{"type":"point","shape":"circle","size":50,"filled":true,"color":"#1e88e5","opacity":1},
 "encoding":{"x":{"datum":1.44,"type":"quantitative","scale":{"domain":[-0.616,149.69],"nice":false,"zero":false},"axis":null},"y":{"datum":187.55,"type":"quantitative","scale":{"domain":[145.93,189.76],"nice":false,"zero":false},"axis":null}}},
{"mark":{"type":"text","text":"Газпром · 1Д · MOEX","fontSize":8.2,"color":"#131722","align":"left","baseline":"middle"},
 "encoding":{"x":{"datum":2.66,"type":"quantitative","scale":{"domain":[-0.616,149.69],"nice":false,"zero":false},"axis":null},"y":{"datum":187.55,"type":"quantitative","scale":{"domain":[145.93,189.76],"nice":false,"zero":false},"axis":null}}},
{"mark":{"type":"point","shape":"circle","size":10,"filled":true,"color":"#26a69a","opacity":1},
 "encoding":{"x":{"datum":20.33,"type":"quantitative","scale":{"domain":[-0.616,149.69],"nice":false,"zero":false},"axis":null},"y":{"datum":187.55,"type":"quantitative","scale":{"domain":[145.93,189.76],"nice":false,"zero":false},"axis":null}}},
{"mark":{"type":"point","shape":"square","size":64,"filled":true,"color":"#fbdcdc","opacity":1},
 "encoding":{"x":{"datum":22.18,"type":"quantitative","scale":{"domain":[-0.616,149.69],"nice":false,"zero":false},"axis":null},"y":{"datum":187.55,"type":"quantitative","scale":{"domain":[145.93,189.76],"nice":false,"zero":false},"axis":null}}},
{"mark":{"type":"text","text":"=","fontSize":6,"color":"#ef5350","align":"center","baseline":"middle"},
 "encoding":{"x":{"datum":22.18,"type":"quantitative","scale":{"domain":[-0.616,149.69],"nice":false,"zero":false},"axis":null},"y":{"datum":187.55,"type":"quantitative","scale":{"domain":[145.93,189.76],"nice":false,"zero":false},"axis":null}}},
{"mark":{"type":"text","text":"ОТКР","fontSize":6.2,"color":"#787b86","align":"left","baseline":"middle"},
 "encoding":{"x":{"datum":24.85,"type":"quantitative","scale":{"domain":[-0.616,149.69],"nice":false,"zero":false},"axis":null},"y":{"datum":187.55,"type":"quantitative","scale":{"domain":[145.93,189.76],"nice":false,"zero":false},"axis":null}}},
{"mark":{"type":"text","text":"166.70","fontSize":6.2,"color":"#26a69a","align":"left","baseline":"middle"},
 "encoding":{"x":{"datum":28.44,"type":"quantitative","scale":{"domain":[-0.616,149.69],"nice":false,"zero":false},"axis":null},"y":{"datum":187.55,"type":"quantitative","scale":{"domain":[145.93,189.76],"nice":false,"zero":false},"axis":null}}},
{"mark":{"type":"text","text":"МАКС","fontSize":6.2,"color":"#787b86","align":"left","baseline":"middle"},
 "encoding":{"x":{"datum":33.47,"type":"quantitative","scale":{"domain":[-0.616,149.69],"nice":false,"zero":false},"axis":null},"y":{"datum":187.55,"type":"quantitative","scale":{"domain":[145.93,189.76],"nice":false,"zero":false},"axis":null}}},
{"mark":{"type":"text","text":"168.50","fontSize":6.2,"color":"#26a69a","align":"left","baseline":"middle"},
 "encoding":{"x":{"datum":36.96,"type":"quantitative","scale":{"domain":[-0.616,149.69],"nice":false,"zero":false},"axis":null},"y":{"datum":187.55,"type":"quantitative","scale":{"domain":[145.93,189.76],"nice":false,"zero":false},"axis":null}}},
{"mark":{"type":"text","text":"МИН","fontSize":6.2,"color":"#787b86","align":"left","baseline":"middle"},
 "encoding":{"x":{"datum":42.1,"type":"quantitative","scale":{"domain":[-0.616,149.69],"nice":false,"zero":false},"axis":null},"y":{"datum":187.55,"type":"quantitative","scale":{"domain":[145.93,189.76],"nice":false,"zero":false},"axis":null}}},
{"mark":{"type":"text","text":"166.05","fontSize":6.2,"color":"#26a69a","align":"left","baseline":"middle"},
 "encoding":{"x":{"datum":44.8,"type":"quantitative","scale":{"domain":[-0.616,149.69],"nice":false,"zero":false},"axis":null},"y":{"datum":187.55,"type":"quantitative","scale":{"domain":[145.93,189.76],"nice":false,"zero":false},"axis":null}}},
{"mark":{"type":"text","text":"ЗАКР","fontSize":6.2,"color":"#787b86","align":"left","baseline":"middle"},
 "encoding":{"x":{"datum":49.2,"type":"quantitative","scale":{"domain":[-0.616,149.69],"nice":false,"zero":false},"axis":null},"y":{"datum":187.55,"type":"quantitative","scale":{"domain":[145.93,189.76],"nice":false,"zero":false},"axis":null}}},
{"mark":{"type":"text","text":"167.68  +1.23 (+0.74%)","fontSize":6.2,"color":"#26a69a","align":"left","baseline":"middle"},
 "encoding":{"x":{"datum":52.6,"type":"quantitative","scale":{"domain":[-0.616,149.69],"nice":false,"zero":false},"axis":null},"y":{"datum":187.55,"type":"quantitative","scale":{"domain":[145.93,189.76],"nice":false,"zero":false},"axis":null}}},
{"mark":{"type":"point","shape":"M-1,-0.39H1V0.39H-1Z","size":729,"filled":false,"color":"#f19a97","strokeWidth":1,"opacity":1},
 "encoding":{"x":{"datum":3.18,"type":"quantitative","scale":{"domain":[-0.616,149.69],"nice":false,"zero":false},"axis":null},"y":{"datum":185.17,"type":"quantitative","scale":{"domain":[145.93,189.76],"nice":false,"zero":false},"axis":null}}},
{"mark":{"type":"text","text":"167.68","fontSize":6,"color":"#ef5350","align":"center","baseline":"middle"},
 "encoding":{"x":{"datum":3.18,"type":"quantitative","scale":{"domain":[-0.616,149.69],"nice":false,"zero":false},"axis":null},"y":{"datum":185.17,"type":"quantitative","scale":{"domain":[145.93,189.76],"nice":false,"zero":false},"axis":null}}},
{"mark":{"type":"text","text":"0.00","fontSize":6,"color":"#5d606b","align":"left","baseline":"middle"},
 "encoding":{"x":{"datum":6.98,"type":"quantitative","scale":{"domain":[-0.616,149.69],"nice":false,"zero":false},"axis":null},"y":{"datum":185.17,"type":"quantitative","scale":{"domain":[145.93,189.76],"nice":false,"zero":false},"axis":null}}},
{"mark":{"type":"point","shape":"M-1,-0.39H1V0.39H-1Z","size":729,"filled":false,"color":"#8fa8f7","strokeWidth":1,"opacity":1},
 "encoding":{"x":{"datum":12.42,"type":"quantitative","scale":{"domain":[-0.616,149.69],"nice":false,"zero":false},"axis":null},"y":{"datum":185.17,"type":"quantitative","scale":{"domain":[145.93,189.76],"nice":false,"zero":false},"axis":null}}},
{"mark":{"type":"text","text":"167.68","fontSize":6,"color":"#2962ff","align":"center","baseline":"middle"},
 "encoding":{"x":{"datum":12.42,"type":"quantitative","scale":{"domain":[-0.616,149.69],"nice":false,"zero":false},"axis":null},"y":{"datum":185.17,"type":"quantitative","scale":{"domain":[145.93,189.76],"nice":false,"zero":false},"axis":null}}},
{"mark":{"type":"text","text":"EMA 55 close 0","fontSize":5.8,"color":"#787b86","align":"left","baseline":"middle"},
 "encoding":{"x":{"datum":0.62,"type":"quantitative","scale":{"domain":[-0.616,149.69],"nice":false,"zero":false},"axis":null},"y":{"datum":182.79,"type":"quantitative","scale":{"domain":[145.93,189.76],"nice":false,"zero":false},"axis":null}}},
{"mark":{"type":"text","text":"168.98","fontSize":5.8,"color":"#2962ff","align":"left","baseline":"middle"},
 "encoding":{"x":{"datum":10.68,"type":"quantitative","scale":{"domain":[-0.616,149.69],"nice":false,"zero":false},"axis":null},"y":{"datum":182.79,"type":"quantitative","scale":{"domain":[145.93,189.76],"nice":false,"zero":false},"axis":null}}},
{"mark":{"type":"text","text":"Объём","fontSize":5.8,"color":"#787b86","align":"left","baseline":"middle"},
 "encoding":{"x":{"datum":0.62,"type":"quantitative","scale":{"domain":[-0.616,149.69],"nice":false,"zero":false},"axis":null},"y":{"datum":180.42,"type":"quantitative","scale":{"domain":[145.93,189.76],"nice":false,"zero":false},"axis":null}}},
{"mark":{"type":"text","text":"10.973M","fontSize":5.8,"color":"#26a69a","align":"left","baseline":"middle"},
 "encoding":{"x":{"datum":5.95,"type":"quantitative","scale":{"domain":[-0.616,149.69],"nice":false,"zero":false},"axis":null},"y":{"datum":180.42,"type":"quantitative","scale":{"domain":[145.93,189.76],"nice":false,"zero":false},"axis":null}}},
{"mark":{"type":"text","text":"Ишимоку 9 26 52 26","fontSize":5.8,"color":"#787b86","align":"left","baseline":"middle"},
 "encoding":{"x":{"datum":0.62,"type":"quantitative","scale":{"domain":[-0.616,149.69],"nice":false,"zero":false},"axis":null},"y":{"datum":178.04,"type":"quantitative","scale":{"domain":[145.93,189.76],"nice":false,"zero":false},"axis":null}}},
{"mark":{"type":"text","text":"168.73","fontSize":5.8,"color":"#2962ff","align":"left","baseline":"middle"},
 "encoding":{"x":{"datum":14.17,"type":"quantitative","scale":{"domain":[-0.616,149.69],"nice":false,"zero":false},"axis":null},"y":{"datum":178.04,"type":"quantitative","scale":{"domain":[145.93,189.76],"nice":false,"zero":false},"axis":null}}},
{"mark":{"type":"text","text":"170.04","fontSize":5.8,"color":"#b71c1c","align":"left","baseline":"middle"},
 "encoding":{"x":{"datum":18.69,"type":"quantitative","scale":{"domain":[-0.616,149.69],"nice":false,"zero":false},"axis":null},"y":{"datum":178.04,"type":"quantitative","scale":{"domain":[145.93,189.76],"nice":false,"zero":false},"axis":null}}},
{"mark":{"type":"text","text":"167.68","fontSize":5.8,"color":"#43a047","align":"left","baseline":"middle"},
 "encoding":{"x":{"datum":23.41,"type":"quantitative","scale":{"domain":[-0.616,149.69],"nice":false,"zero":false},"axis":null},"y":{"datum":178.04,"type":"quantitative","scale":{"domain":[145.93,189.76],"nice":false,"zero":false},"axis":null}}},
{"mark":{"type":"text","text":"167.93","fontSize":5.8,"color":"#a5d6a7","align":"left","baseline":"middle"},
 "encoding":{"x":{"datum":27.93,"type":"quantitative","scale":{"domain":[-0.616,149.69],"nice":false,"zero":false},"axis":null},"y":{"datum":178.04,"type":"quantitative","scale":{"domain":[145.93,189.76],"nice":false,"zero":false},"axis":null}}},
{"mark":{"type":"text","text":"172.90","fontSize":5.8,"color":"#ef9a9a","align":"left","baseline":"middle"},
 "encoding":{"x":{"datum":32.44,"type":"quantitative","scale":{"domain":[-0.616,149.69],"nice":false,"zero":false},"axis":null},"y":{"datum":178.04,"type":"quantitative","scale":{"domain":[145.93,189.76],"nice":false,"zero":false},"axis":null}}},
{"mark":{"type":"point","shape":"M-1,-0.42H1V0.42H-1Z","size":144,"filled":true,"fill":"white","stroke":"#d1d4dc","strokeWidth":1,"opacity":1},
 "encoding":{"x":{"datum":2.26,"type":"quantitative","scale":{"domain":[-0.616,149.69],"nice":false,"zero":false},"axis":null},"y":{"datum":175.66,"type":"quantitative","scale":{"domain":[145.93,189.76],"nice":false,"zero":false},"axis":null}}},
{"mark":{"type":"text","text":"^","fontSize":7,"color":"#131722","align":"center","baseline":"middle","dy":1},
 "encoding":{"x":{"datum":2.26,"type":"quantitative","scale":{"domain":[-0.616,149.69],"nice":false,"zero":false},"axis":null},"y":{"datum":175.66,"type":"quantitative","scale":{"domain":[145.93,189.76],"nice":false,"zero":false},"axis":null}}},
{"mark":{"type":"point","shape":"square","size":90,"filled":true,"fill":"white","stroke":"#d1d4dc","strokeWidth":1,"opacity":1},
 "encoding":{"x":{"datum":142.6,"type":"quantitative","scale":{"domain":[-0.616,149.69],"nice":false,"zero":false},"axis":null},"y":{"datum":187.64,"type":"quantitative","scale":{"domain":[145.93,189.76],"nice":false,"zero":false},"axis":null}}},
{"mark":{"type":"text","text":"↓","fontSize":6,"color":"#131722","align":"center","baseline":"middle"},
 "encoding":{"x":{"datum":142.6,"type":"quantitative","scale":{"domain":[-0.616,149.69],"nice":false,"zero":false},"axis":null},"y":{"datum":187.64,"type":"quantitative","scale":{"domain":[145.93,189.76],"nice":false,"zero":false},"axis":null}}},
{"mark":{"type":"point","shape":"square","size":90,"filled":true,"fill":"white","stroke":"#d1d4dc","strokeWidth":1,"opacity":1},
 "encoding":{"x":{"datum":145.4,"type":"quantitative","scale":{"domain":[-0.616,149.69],"nice":false,"zero":false},"axis":null},"y":{"datum":187.64,"type":"quantitative","scale":{"domain":[145.93,189.76],"nice":false,"zero":false},"axis":null}}},
{"mark":{"type":"text","text":"⤡","fontSize":6,"color":"#787b86","align":"center","baseline":"middle"},
 "encoding":{"x":{"datum":145.4,"type":"quantitative","scale":{"domain":[-0.616,149.69],"nice":false,"zero":false},"axis":null},"y":{"datum":187.64,"type":"quantitative","scale":{"domain":[145.93,189.76],"nice":false,"zero":false},"axis":null}}},
{"mark":{"type":"point","shape":"square","size":90,"filled":true,"fill":"white","stroke":"#d1d4dc","strokeWidth":1,"opacity":1},
 "encoding":{"x":{"datum":148.05,"type":"quantitative","scale":{"domain":[-0.616,149.69],"nice":false,"zero":false},"axis":null},"y":{"datum":187.64,"type":"quantitative","scale":{"domain":[145.93,189.76],"nice":false,"zero":false},"axis":null}}},
{"mark":{"type":"point","shape":"square","size":20,"filled":false,"color":"#131722","strokeWidth":1,"opacity":1},
 "encoding":{"x":{"datum":148.05,"type":"quantitative","scale":{"domain":[-0.616,149.69],"nice":false,"zero":false},"axis":null},"y":{"datum":187.64,"type":"quantitative","scale":{"domain":[145.93,189.76],"nice":false,"zero":false},"axis":null}}},
{"mark":{"type":"text","text":"RUB ▾","fontSize":5.5,"color":"#131722","align":"left","baseline":"middle"},
 "encoding":{"x":{"datum":150.7,"type":"quantitative","scale":{"domain":[-0.616,149.69],"nice":false,"zero":false},"axis":null},"y":{"datum":188.06,"type":"quantitative","scale":{"domain":[145.93,189.76],"nice":false,"zero":false},"axis":null}}}
]}
]
},
{
"width":732,"height":113,
"data":{"values":[{}]},
"layer":[
{"data":{"name":"rgrid"},"mark":{"type":"rule","color":"#eef1f7","strokeWidth":1},
 "encoding":{"y":{"field":"t","type":"quantitative","scale":{"domain":[27.6,81.4],"nice":false,"zero":false},"axis":null}}},
{"mark":{"type":"rect","color":"#7e57c2","opacity":0.1},
 "encoding":{"x":{"datum":-0.616,"type":"quantitative","scale":{"domain":[-0.616,149.69],"nice":false,"zero":false},"axis":null},"x2":{"datum":149.69},
 "y":{"datum":70,"type":"quantitative","scale":{"domain":[27.6,81.4],"nice":false,"zero":false},"axis":null},
 "y2":{"datum":30}}},
{"mark":{"type":"rule","color":"#d1d4dc","strokeWidth":1},
 "encoding":{"y":{"datum":81.3,"type":"quantitative","scale":{"domain":[27.6,81.4],"nice":false,"zero":false},"axis":null}}},
{"mark":{"type":"rule","color":"#a3a6af","strokeDash":[4,3],"strokeWidth":1},
 "encoding":{"y":{"datum":70,"type":"quantitative","scale":{"domain":[27.6,81.4],"nice":false,"zero":false},"axis":null}}},
{"mark":{"type":"rule","color":"#a3a6af","strokeDash":[4,3],"strokeWidth":1},
 "encoding":{"y":{"datum":50,"type":"quantitative","scale":{"domain":[27.6,81.4],"nice":false,"zero":false},"axis":null}}},
{"mark":{"type":"rule","color":"#a3a6af","strokeDash":[4,3],"strokeWidth":1},
 "encoding":{"y":{"datum":30,"type":"quantitative","scale":{"domain":[27.6,81.4],"nice":false,"zero":false},"axis":null}}},
{"mark":{"type":"rule","color":"#9598a1","strokeDash":[4,4],"strokeWidth":1},
 "encoding":{"x":{"datum":142.7,"type":"quantitative","scale":{"domain":[-0.616,149.69],"nice":false,"zero":false},"axis":null}}},
{"data":{"name":"sma"},"mark":{"type":"line","color":"#f3dc85","strokeWidth":1,"clip":true},
 "encoding":{"x":{"field":"i","type":"quantitative","scale":{"domain":[-0.616,149.69],"nice":false,"zero":false},"axis":null},
 "y":{"field":"v","type":"quantitative","scale":{"domain":[27.6,81.4],"nice":false,"zero":false},"axis":null}}},
{"data":{"name":"k"},"mark":{"type":"line","color":"#9583cf","strokeWidth":1,"clip":true},
 "encoding":{"x":{"field":"i","type":"quantitative","scale":{"domain":[-0.616,149.69],"nice":false,"zero":false},"axis":null},
 "y":{"field":"r","type":"quantitative","scale":{"domain":[27.6,81.4],"nice":false,"zero":false},"axis":null}}},
{"mark":{"type":"rule","color":"#1c1cb0","strokeWidth":2},
 "encoding":{"x":{"datum":80.9,"type":"quantitative","scale":{"domain":[-0.616,149.69],"nice":false,"zero":false},"axis":null},"x2":{"datum":147.2},
 "y":{"datum":76.9,"type":"quantitative","scale":{"domain":[27.6,81.4],"nice":false,"zero":false},"axis":null},"y2":{"datum":44.4}}},
{"data":{"name":"rlab"},"mark":{"type":"text","align":"left","baseline":"middle","fontSize":5.8,"color":"#5d606b"},
 "encoding":{"x":{"datum":150.72,"type":"quantitative","scale":{"domain":[-0.616,149.69],"nice":false,"zero":false},"axis":null},
 "y":{"field":"t","type":"quantitative","scale":{"domain":[27.6,81.4],"nice":false,"zero":false},"axis":null},
 "text":{"field":"t","type":"quantitative","format":".2f"}}},
{"mark":{"type":"text","text":"RSI 14 close SMA 14 2","fontSize":5.8,"color":"#787b86","align":"left","baseline":"middle"},
 "encoding":{"x":{"datum":0.41,"type":"quantitative","scale":{"domain":[-0.616,149.69],"nice":false,"zero":false},"axis":null},"y":{"datum":78.07,"type":"quantitative","scale":{"domain":[27.6,81.4],"nice":false,"zero":false},"axis":null}}},
{"mark":{"type":"text","text":"48.79","fontSize":5.8,"color":"#7e57c2","align":"left","baseline":"middle"},
 "encoding":{"x":{"datum":14.37,"type":"quantitative","scale":{"domain":[-0.616,149.69],"nice":false,"zero":false},"axis":null},"y":{"datum":78.07,"type":"quantitative","scale":{"domain":[27.6,81.4],"nice":false,"zero":false},"axis":null}}},
{"mark":{"type":"text","text":"49.82","fontSize":5.8,"color":"#e9c43b","align":"left","baseline":"middle"},
 "encoding":{"x":{"datum":17.45,"type":"quantitative","scale":{"domain":[-0.616,149.69],"nice":false,"zero":false},"axis":null},"y":{"datum":78.07,"type":"quantitative","scale":{"domain":[27.6,81.4],"nice":false,"zero":false},"axis":null}}},
{"mark":{"type":"text","text":"∅  ∅","fontSize":5.8,"color":"#5d606b","align":"left","baseline":"middle"},
 "encoding":{"x":{"datum":20.94,"type":"quantitative","scale":{"domain":[-0.616,149.69],"nice":false,"zero":false},"axis":null},"y":{"datum":78.07,"type":"quantitative","scale":{"domain":[27.6,81.4],"nice":false,"zero":false},"axis":null}}},
{"mark":{"type":"point","shape":"M-1,-0.3H1V0.3H-1Z","size":576,"filled":true,"color":"#fdd835","opacity":1},
 "encoding":{"x":{"datum":152.36,"type":"quantitative","scale":{"domain":[-0.616,149.69],"nice":false,"zero":false},"axis":null},"y":{"datum":52.59,"type":"quantitative","scale":{"domain":[27.6,81.4],"nice":false,"zero":false},"axis":null}}},
{"mark":{"type":"text","text":"49.82","fontSize":5.5,"color":"#131722","align":"center","baseline":"middle"},
 "encoding":{"x":{"datum":152.36,"type":"quantitative","scale":{"domain":[-0.616,149.69],"nice":false,"zero":false},"axis":null},"y":{"datum":52.59,"type":"quantitative","scale":{"domain":[27.6,81.4],"nice":false,"zero":false},"axis":null}}},
{"mark":{"type":"point","shape":"M-1,-0.3H1V0.3H-1Z","size":576,"filled":true,"color":"#7e57c2","opacity":1},
 "encoding":{"x":{"datum":152.36,"type":"quantitative","scale":{"domain":[-0.616,149.69],"nice":false,"zero":false},"axis":null},"y":{"datum":49.02,"type":"quantitative","scale":{"domain":[27.6,81.4],"nice":false,"zero":false},"axis":null}}},
{"mark":{"type":"text","text":"48.79","fontSize":5.5,"color":"white","align":"center","baseline":"middle"},
 "encoding":{"x":{"datum":152.36,"type":"quantitative","scale":{"domain":[-0.616,149.69],"nice":false,"zero":false},"axis":null},"y":{"datum":49.02,"type":"quantitative","scale":{"domain":[27.6,81.4],"nice":false,"zero":false},"axis":null}}}
]
}
]
}
